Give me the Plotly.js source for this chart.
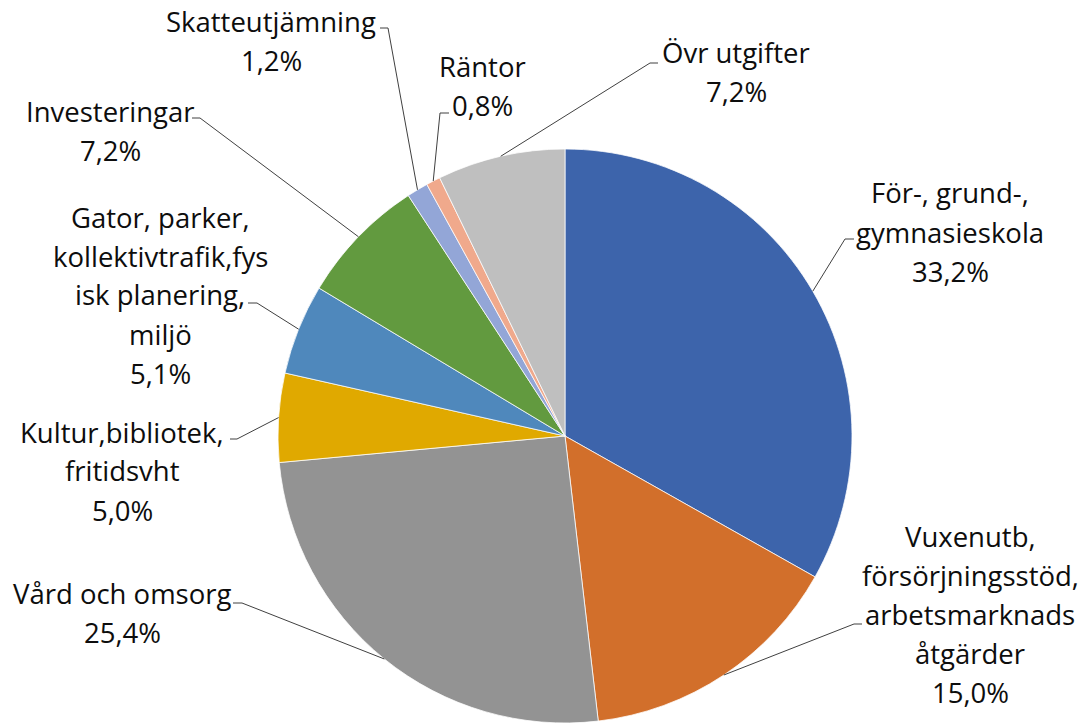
<!DOCTYPE html>
<html><head><meta charset="utf-8">
<script src="https://cdn.plot.ly/plotly-3.0.1.min.js"></script>
<style>html,body{margin:0;padding:0;background:#fff}#chart{width:1086px;height:726px}</style>
</head><body><div id="chart"></div>
<script>
// ---- data ----
const categories = [
  'För-, grund-,\ngymnasieskola',
  'Vuxenutb,\nförsörjningsstöd,\narbetsmarknads\nåtgärder',
  'Vård och omsorg',
  'Kultur,bibliotek,\nfritidsvht',
  'Gator, parker,\nkollektivtrafik,fys\nisk planering,\nmiljö',
  'Investeringar',
  'Skatteutjämning',
  'Räntor',
  'Övr utgifter'
];
const values = [33.2, 15.0, 25.4, 5.0, 5.1, 7.2, 1.2, 0.8, 7.2];
const colors = ['#3D64AB', '#D26F2B', '#939393', '#E0A900', '#4F88BC', '#629A3F', '#93A6D7', '#F0A98C', '#BFBFBF'];

// ---- layout of labels (pixel positions) ----
const W = 1086, H = 726;
const labelBox = [
  {cx: 950, cy: 232, elbow: [845, 239], end: [854, 239]},
  {cx: 970, cy: 614, elbow: [854, 624], end: [862, 624]},
  {cx: 122, cy: 613, elbow: [242, 603], end: [233, 603]},
  {cx: 122, cy: 471, elbow: [237, 439], end: [230, 439]},
  {cx: 160, cy: 295, elbow: [257, 303], end: [248, 303]},
  {cx: 110, cy: 131, elbow: [200, 118], end: [192, 118]},
  {cx: 271, cy: 41,  elbow: [388, 28],  end: [380, 28]},
  {cx: 482, cy: 86,  elbow: [440, 113], end: [449, 113]},
  {cx: 736, cy: 72,  elbow: [650, 63],  end: [658, 63]}
];
const lineGap = 39;
const fontSize = 27.5;

// pie domain in pixels
const pieLeft = 278, pieRight = 852, pieTop = 149, pieBottom = 723;
const cxPie = (pieLeft + pieRight) / 2, cyPie = (pieTop + pieBottom) / 2;
const rPie = Math.min(pieRight - pieLeft, pieBottom - pieTop) / 2;

const px = x => x / W, py = y => 1 - y / H;

const total = values.reduce((a, b) => a + b, 0);
const annotations = [], shapes = [];
let cum = 0;
values.forEach((v, i) => {
  const mid = (cum + v / 2) / total * 2 * Math.PI;
  cum += v;
  const ex = cxPie + rPie * Math.sin(mid), ey = cyPie - rPie * Math.cos(mid);
  const lb = labelBox[i];
  const lines = categories[i].split('\n').concat([v.toFixed(1).replace('.', ',') + '%']);
  const n = lines.length;
  lines.forEach((t, k) => {
    annotations.push({
      xref: 'paper', yref: 'paper', x: px(lb.cx), y: py(lb.cy + (k - (n - 1) / 2) * lineGap),
      xanchor: 'center', yanchor: 'middle', showarrow: false, text: t,
      font: {family: '"Open Sans", Lato, sans-serif', size: fontSize, color: '#0D0D0D'}
    });
  });
  shapes.push({
    type: 'path', xref: 'paper', yref: 'paper',
    path: `M ${px(ex)} ${py(ey)} L ${px(lb.elbow[0])} ${py(lb.elbow[1])} L ${px(lb.end[0])} ${py(lb.end[1])}`,
    line: {color: '#404040', width: 1}
  });
});

const trace = {
  type: 'pie',
  labels: categories.map(c => c.replace(/\n/g, ' ')),
  values: values,
  sort: false,
  direction: 'clockwise',
  rotation: 0,
  textinfo: 'none',
  hoverinfo: 'label+value',
  marker: {colors: colors, line: {color: '#ffffff', width: 0.75}},
  domain: {x: [px(pieLeft), px(pieRight)], y: [py(pieBottom), py(pieTop)]},
  showlegend: false
};

Plotly.newPlot('chart', [trace], {
  width: W, height: H,
  margin: {l: 0, r: 0, t: 0, b: 0},
  paper_bgcolor: '#ffffff', plot_bgcolor: '#ffffff',
  showlegend: false,
  annotations: annotations,
  shapes: shapes
}, {displayModeBar: false, staticPlot: true});
</script></body></html>
